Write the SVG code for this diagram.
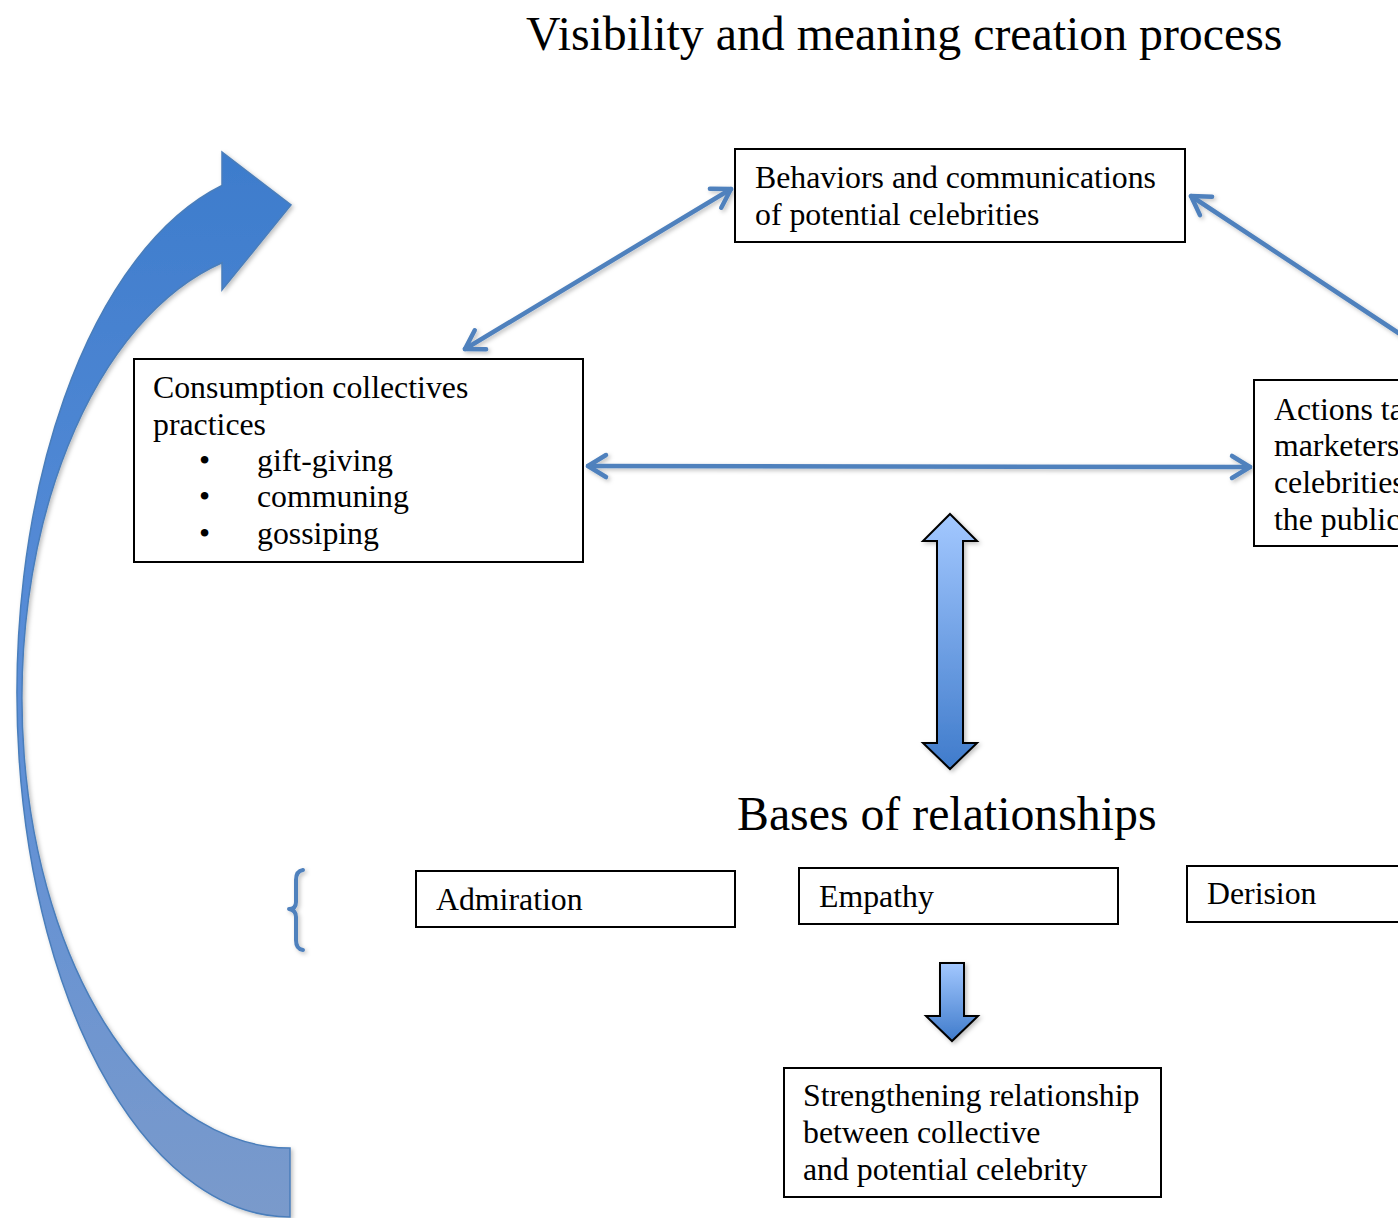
<svg xmlns="http://www.w3.org/2000/svg" width="1398" height="1218" viewBox="0 0 1398 1218">
<style>
text{font-family:"Liberation Serif","Times New Roman",serif;fill:#000}
.t{font-size:31.8px}
.h{font-size:47.8px}
.box{fill:#fff;stroke:#000;stroke-width:2}
.con{fill:none;stroke:#4f81bd;stroke-width:4.5;stroke-linecap:round}
.blk{stroke:#000;stroke-width:2;stroke-linejoin:miter}
</style>
<defs>
<linearGradient id="curveG" x1="0" y1="0" x2="0" y2="1">
<stop offset="0" stop-color="#3d7ccc"/>
<stop offset="0.5" stop-color="#5b8ed8"/>
<stop offset="1" stop-color="#7a9acb"/>
</linearGradient>
<linearGradient id="blkG" x1="0" y1="0" x2="0" y2="1">
<stop offset="0" stop-color="#a3c8ff"/>
<stop offset="1" stop-color="#3f7bcb"/>
</linearGradient>
<marker id="chev" viewBox="0 0 30 30" refX="24" refY="15" markerWidth="30" markerHeight="30" markerUnits="userSpaceOnUse" orient="auto-start-reverse">
<path d="M6,4 L24,15 L6,26" fill="none" stroke="#4f81bd" stroke-width="4.5" stroke-linecap="round" stroke-linejoin="round"/>
</marker>
<filter id="sh" filterUnits="userSpaceOnUse" x="0" y="0" width="1398" height="1218">
<feDropShadow dx="2" dy="2" stdDeviation="2" flood-color="#000" flood-opacity="0.25"/>
</filter>
</defs>

<text class="h" x="526" y="50">Visibility and meaning creation process</text>

<g id="cycle-arrow">
<path d="M290,1217 A273,524 0 0 1 222,185.5 L222,152 L291,205 L222,290 L222,262.7 A268,450 0 0 0 290,1148 Z" fill="url(#curveG)" stroke="#4a7ebb" stroke-width="1.5" filter="url(#sh)"/>
</g>

<g id="connectors" filter="url(#sh)">
<line class="con" x1="731" y1="189" x2="465" y2="349" marker-start="url(#chev)" marker-end="url(#chev)"/>
<line class="con" x1="1400" y1="334" x2="1191" y2="196" marker-end="url(#chev)"/>
<line class="con" x1="588" y1="466" x2="1250" y2="467" marker-start="url(#chev)" marker-end="url(#chev)"/>
<path class="blk" d="M950,514 L977,541 L963,541 L963,743 L977,743 L950,769 L923,743 L937,743 L937,541 L923,541 Z" fill="url(#blkG)"/>
<path class="blk" d="M940,963 L964,963 L964,1016 L978,1016 L952,1041 L926,1016 L940,1016 Z" fill="url(#blkG)"/>
<path d="M303,870 Q296,871 296,880 L296,902 Q296,909 289,909 Q296,910 296,917 L296,940 Q296,949 303,950" fill="none" stroke="#4f81bd" stroke-width="4" stroke-linecap="round" stroke-linejoin="round"/>
</g>

<g id="behaviors">
<rect class="box" x="735" y="149" width="450" height="93"/>
<text class="t" x="755" y="188">Behaviors and communications</text>
<text class="t" x="755" y="225">of potential celebrities</text>
</g>

<g id="consumption">
<rect class="box" x="134" y="359" width="449" height="203"/>
<text class="t" x="153" y="398">Consumption collectives</text>
<text class="t" x="153" y="435">practices</text>
<text class="t" x="199" y="471">•</text>
<text class="t" x="257" y="471">gift-giving</text>
<text class="t" x="199" y="507">•</text>
<text class="t" x="257" y="507">communing</text>
<text class="t" x="199" y="544">•</text>
<text class="t" x="257" y="544">gossiping</text>
</g>

<g id="actions">
<rect class="box" x="1254" y="380" width="160" height="166"/>
<text class="t" x="1274" y="420">Actions ta</text>
<text class="t" x="1274" y="456">marketers</text>
<text class="t" x="1274" y="493">celebrities</text>
<text class="t" x="1274" y="530">the public</text>
</g>

<text class="h" x="737" y="830">Bases of relationships</text>

<g id="admiration">
<rect class="box" x="416" y="871" width="319" height="56"/>
<text class="t" x="436" y="910">Admiration</text>
</g>

<g id="empathy">
<rect class="box" x="799" y="868" width="319" height="56"/>
<text class="t" x="819" y="907">Empathy</text>
</g>

<g id="derision">
<rect class="box" x="1187" y="866" width="230" height="56"/>
<text class="t" x="1207" y="904">Derision</text>
</g>

<g id="strengthening">
<rect class="box" x="784" y="1068" width="377" height="129"/>
<text class="t" x="803" y="1106">Strengthening relationship</text>
<text class="t" x="803" y="1143">between collective</text>
<text class="t" x="803" y="1180">and potential celebrity</text>
</g>
</svg>
